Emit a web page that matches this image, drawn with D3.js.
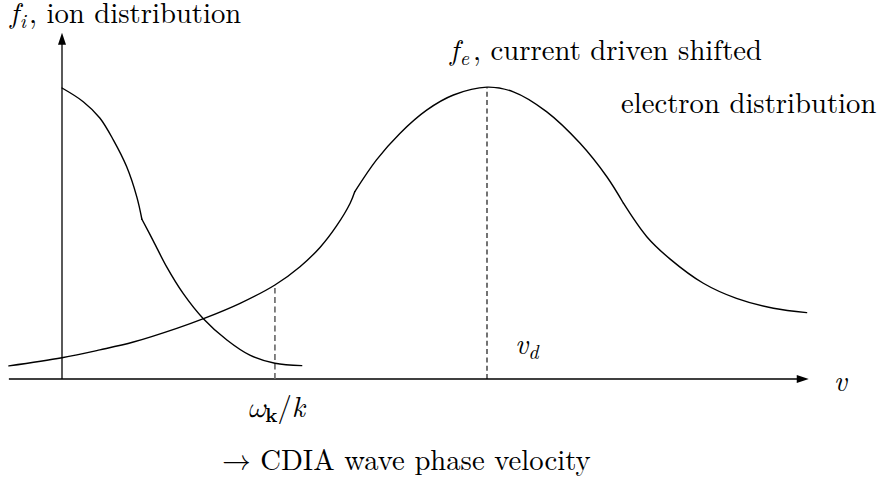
<!DOCTYPE html>
<html>
<head>
<meta charset="utf-8">
<script src="https://cdn.jsdelivr.net/npm/d3@7/dist/d3.min.js"></script>
<style>
  html, body { margin: 0; padding: 0; background: #fff; }
  svg { display: block; }
</style>
</head>
<body>
<svg id="chart" width="881" height="481"></svg>
<script>
// Velocity in units of the drift velocity v_d, distribution heights normalised to the ion peak.
// Each curve is stored as separate smooth pieces so the slope breaks are kept.
const ionV1 = [0.000, 0.050, 0.089, 0.121, 0.152, 0.176, 0.188];
const ionF1 = [1.000, 0.953, 0.897, 0.821, 0.730, 0.626, 0.549];
const ionV2 = [0.188, 0.215, 0.246, 0.285, 0.332, 0.388, 0.442, 0.501, 0.564];
const ionF2 = [0.549, 0.474, 0.386, 0.294, 0.208, 0.134, 0.082, 0.054, 0.046];

const eleV1 = [-0.125, 0.000, 0.089, 0.168, 0.270, 0.336, 0.419, 0.501, 0.560, 0.607, 0.646, 0.678, 0.689];
const eleF1 = [0.045, 0.073, 0.100, 0.127, 0.174, 0.209, 0.260, 0.323, 0.386, 0.452, 0.526, 0.604, 0.644];
const eleV2 = [0.689, 0.740, 0.795, 0.858, 0.921, 1.000, 1.062, 1.140, 1.219, 1.282, 1.321];
const eleF2 = [0.644, 0.753, 0.844, 0.924, 0.976, 1.003, 0.987, 0.919, 0.810, 0.695, 0.604];
const eleV3 = [1.321, 1.376, 1.431, 1.509, 1.587, 1.674, 1.752];
const eleF3 = [0.604, 0.489, 0.412, 0.329, 0.277, 0.243, 0.228];

// Marked velocities: CDIA phase velocity and the drift velocity
const phaseV = 0.501;
const phaseF = 0.323;
const driftV = 1.000;
const driftF = 1.003;

// Axis extents
const axisV = [-0.125, 1.757];
const axisF = [0, 1.19];

const svg = d3.select("#chart");
const x = d3.scaleLinear().domain([0, 1]).range([62, 487]);
const y = d3.scaleLinear().domain([0, 1]).range([379, 88]);

const zip = (vs, fs) => vs.map((v, i) => [v, fs[i]]);
const line = d3.line().x(d => x(d[0])).y(d => y(d[1])).curve(d3.curveCatmullRom.alpha(0.5));

// Axes with arrow heads
svg.append("line")
  .attr("x1", x(axisV[0])).attr("x2", x(axisV[1]) - 8)
  .attr("y1", y(0)).attr("y2", y(0))
  .attr("stroke", "#000").attr("stroke-width", 1.3);
svg.append("path")
  .attr("d", `M${x(axisV[1])},${y(0)} L${x(axisV[1]) - 12},${y(0) - 4} L${x(axisV[1]) - 12},${y(0) + 4} Z`)
  .attr("fill", "#000");

svg.append("line")
  .attr("x1", x(0)).attr("x2", x(0))
  .attr("y1", y(0)).attr("y2", y(axisF[1]) + 8)
  .attr("stroke", "#000").attr("stroke-width", 1.3);
svg.append("path")
  .attr("d", `M${x(0)},${y(axisF[1])} L${x(0) - 4},${y(axisF[1]) + 12} L${x(0) + 4},${y(axisF[1]) + 12} Z`)
  .attr("fill", "#000");

// Dashed markers
svg.append("line")
  .attr("x1", x(phaseV)).attr("x2", x(phaseV))
  .attr("y1", y(0)).attr("y2", y(phaseF) + 3)
  .attr("stroke", "#6e6e6e").attr("stroke-width", 1.7)
  .attr("stroke-dasharray", "6,3.5");
svg.append("line")
  .attr("x1", x(driftV)).attr("x2", x(driftV))
  .attr("y1", y(0)).attr("y2", y(driftF))
  .attr("stroke", "#000").attr("stroke-width", 1.1)
  .attr("stroke-dasharray", "5,3.3");

// Distribution curves
[[ionV1, ionF1], [ionV2, ionF2], [eleV1, eleF1], [eleV2, eleF2], [eleV3, eleF3]].forEach(([vs, fs]) => {
  svg.append("path")
    .attr("d", line(zip(vs, fs)))
    .attr("fill", "none")
    .attr("stroke", "#000")
    .attr("stroke-width", 1.4)
    .attr("stroke-linecap", "round");
});

// Labels (Computer Modern look)
const FS = 28.7;
const FONT = "'Latin Modern Roman', 'Liberation Serif', serif";
const MATH = "'Latin Modern Math', 'Latin Modern Roman', 'DejaVu Serif', serif";
function label(px, py, parts) {
  const t = svg.append("text").attr("x", px).attr("y", py)
    .attr("font-family", FONT).attr("fill", "#000")
    .attr("font-size", FS);
  parts.forEach(p => {
    const s = t.append("tspan").text(p.t);
    if (p.it) s.attr("font-style", "italic");
    if (p.b) s.attr("font-weight", "bold");
    if (p.math) s.attr("font-family", MATH);
    if (p.sub) s.attr("font-size", FS * 0.7).attr("dy", 4.5);
    if (p.up) s.attr("dy", -4.5);
    if (p.dx) s.attr("dx", p.dx);
  });
  return t;
}

label(10, 23, [{t: "f", it: true}, {t: "i", it: true, sub: true, dx: 1}, {t: ", ion distribution", up: true, dx: 3}]);
label(450, 60, [{t: "f", it: true}, {t: "e", it: true, sub: true, dx: 1}, {t: ", current driven shifted", up: true, dx: 4}]);
label(621, 113, [{t: "electron distribution"}]);
label(x(driftV) + 28, 354, [{t: "v", it: true}, {t: "d", it: true, sub: true}]);
label(x(axisV[1]) + 25, 391, [{t: "v", it: true}]);
label(x(phaseV) - 28, 417, [{t: "ω", it: true, math: true}, {t: "k", b: true, sub: true}, {t: "/", up: true}, {t: "k", it: true}]);
label(222, 470, [{t: "→", math: true}, {t: " CDIA wave phase velocity"}]);
</script>
</body>
</html>
